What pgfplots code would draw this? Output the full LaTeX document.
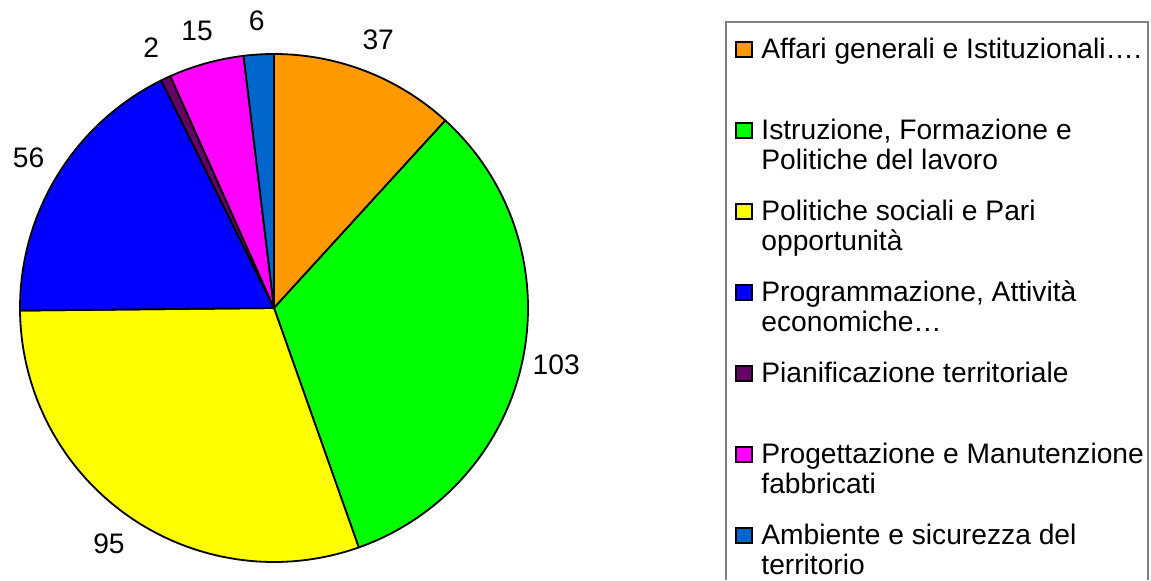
\documentclass[border=0pt]{standalone}
\usepackage{fontspec}
\setmainfont{Liberation Sans}
\usepackage{pgfplots}
\usepackage{pgfplotstable}
\pgfplotsset{compat=1.18}
\definecolor{c1}{HTML}{FF9900}
\definecolor{c2}{HTML}{00FF00}
\definecolor{c3}{HTML}{FFFF00}
\definecolor{c4}{HTML}{0000FF}
\definecolor{c5}{HTML}{660066}
\definecolor{c6}{HTML}{FF00FF}
\definecolor{c7}{HTML}{0066CC}
\pgfplotstableread[col sep=comma]{
value,colour
37,c1
103,c2
95,c3
56,c4
2,c5
15,c6
6,c7
}\piedata
\begin{document}
\begin{tikzpicture}[font=\fontsize{14.1}{15}\selectfont]
\begin{axis}[hide axis, scale only axis, width=575.5pt, height=290pt,
  xmin=0, xmax=1151, ymin=0, ymax=580, at={(0,0)}, anchor=south west, clip=false]
\def\total{0}
\pgfplotsforeachungrouped \k in {0,...,6}{%
  \pgfplotstablegetelem{\k}{value}\of\piedata
  \pgfmathsetmacro\total{\total+\pgfplotsretval}%
}
\def\astart{90}
\pgfplotsforeachungrouped \k in {0,...,6}{%
  \pgfplotstablegetelem{\k}{value}\of\piedata \let\pval\pgfplotsretval
  \pgfplotstablegetelem{\k}{colour}\of\piedata \let\pcol\pgfplotsretval
  \pgfmathsetmacro\aend{\astart-\pval*(360/\total)}%
  \pgfmathsetmacro\amid{(\astart+\aend)/2}%
  \pgfmathsetmacro\lx{274+288*cos(\amid)}%
  \pgfmathsetmacro\ly{272+288*sin(\amid)}%
  \edef\temp{\noexpand\filldraw[fill=\pcol,draw=black,line width=0.9pt,line join=round] (axis cs:274,272) -- ++(\astart:127pt) arc[start angle=\astart,end angle=\aend,radius=127pt] -- cycle;
  \noexpand\node at (axis cs:\lx,\ly) {\pval};}%
  \temp
  \let\astart\aend
}
% legend
\draw[gray, line width=0.6pt] (axis cs:726,0) -- (axis cs:726,558) -- (axis cs:1148,558) -- (axis cs:1148,0);
\filldraw[fill=c1,draw=black,line width=0.8pt] (axis cs:736,538) rectangle (axis cs:752,523);
\node[anchor=base west,inner sep=0pt] at (axis cs:761,522) {Affari generali e Istituzionali….};
\filldraw[fill=c2,draw=black,line width=0.8pt] (axis cs:736,457) rectangle (axis cs:752,442);
\node[anchor=base west,inner sep=0pt] at (axis cs:761,441) {Istruzione, Formazione e};
\node[anchor=base west,inner sep=0pt] at (axis cs:761,411) {Politiche del lavoro};
\filldraw[fill=c3,draw=black,line width=0.8pt] (axis cs:736,376) rectangle (axis cs:752,361);
\node[anchor=base west,inner sep=0pt] at (axis cs:761,360) {Politiche sociali e Pari};
\node[anchor=base west,inner sep=0pt] at (axis cs:761,330) {opportunità};
\filldraw[fill=c4,draw=black,line width=0.8pt] (axis cs:736,295) rectangle (axis cs:752,280);
\node[anchor=base west,inner sep=0pt] at (axis cs:761,279) {Programmazione, Attività};
\node[anchor=base west,inner sep=0pt] at (axis cs:761,249) {economiche…};
\filldraw[fill=c5,draw=black,line width=0.8pt] (axis cs:736,214) rectangle (axis cs:752,199);
\node[anchor=base west,inner sep=0pt] at (axis cs:761,198) {Pianificazione territoriale};
\filldraw[fill=c6,draw=black,line width=0.8pt] (axis cs:736,133) rectangle (axis cs:752,118);
\node[anchor=base west,inner sep=0pt] at (axis cs:761,117) {Progettazione e Manutenzione};
\node[anchor=base west,inner sep=0pt] at (axis cs:761,87) {fabbricati};
\filldraw[fill=c7,draw=black,line width=0.8pt] (axis cs:736,52) rectangle (axis cs:752,37);
\node[anchor=base west,inner sep=0pt] at (axis cs:761,36) {Ambiente e sicurezza del};
\node[anchor=base west,inner sep=0pt] at (axis cs:761,6) {territorio};
\end{axis}
\pgfresetboundingbox
\path[use as bounding box] (0,0) rectangle (575.5pt,290pt);
\end{tikzpicture}
\end{document}
